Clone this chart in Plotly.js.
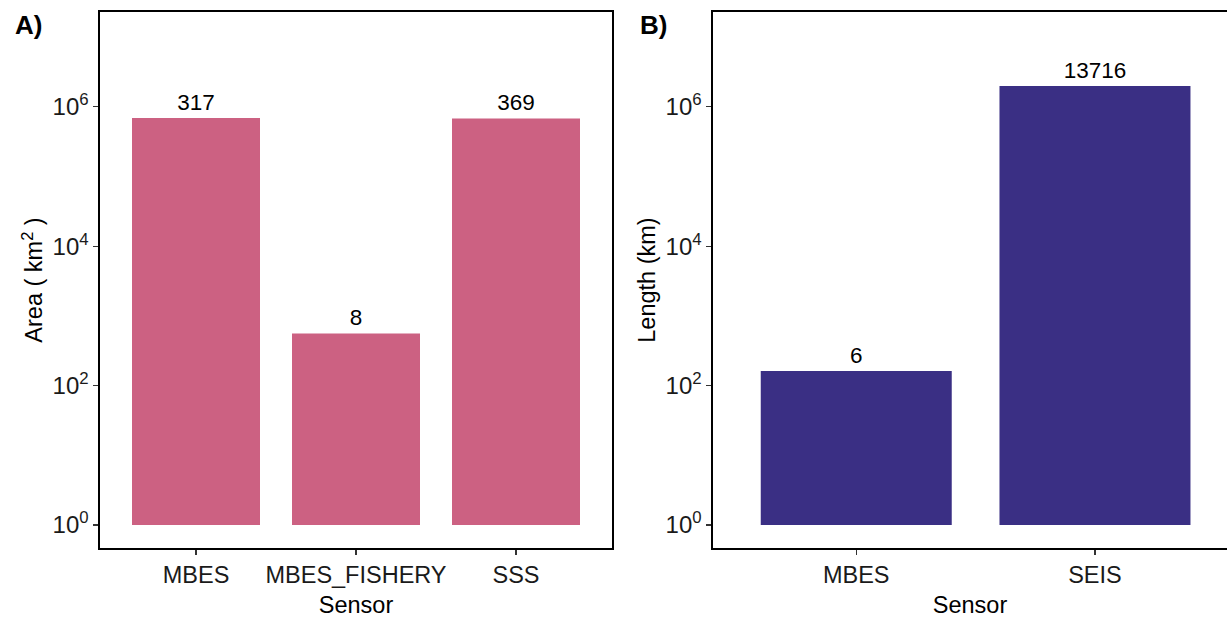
<!DOCTYPE html>
<html>
<head>
<meta charset="utf-8">
<script src="https://cdn.plot.ly/plotly-3.0.1.min.js"></script>
<style>html,body{margin:0;padding:0;background:#fff;}#chart{width:1227px;height:622px;}</style>
</head>
<body>
<div id="chart"></div>
<script>
// Panel A: survey area by sensor
const areaSensors = ["MBES", "MBES_FISHERY", "SSS"];
const areaValues = [690000, 560, 680000];
const areaCounts = ["317", "8", "369"];

// Panel B: survey length by sensor
const lengthSensors = ["MBES", "SEIS"];
const lengthValues = [162, 1980000];
const lengthCounts = ["6", "13716"];

// Log axis ticks
const logTickVals = [1, 100, 10000, 1000000];
const logTickText = ["10<sup>0</sup>", "10<sup>2</sup>", "10<sup>4</sup>", "10<sup>6</sup>"];

const FONT = "Liberation Sans, Arial, sans-serif";
const pink = "#CC6182";
const indigo = "#3A2F84";

const traces = [
  {
    type: "bar", x: areaSensors, y: areaValues.map(v => v - 1), base: areaSensors.map(() => 1),
    text: areaCounts, textposition: "outside", cliponaxis: false,
    textfont: {family: FONT, size: 22.5, color: "#000"},
    marker: {color: pink}, width: 0.8, xaxis: "x", yaxis: "y", hoverinfo: "x+text"
  },
  {
    type: "bar", x: lengthSensors, y: lengthValues.map(v => v - 1), base: lengthSensors.map(() => 1),
    text: lengthCounts, textposition: "outside", cliponaxis: false,
    textfont: {family: FONT, size: 22.5, color: "#000"},
    marker: {color: indigo}, width: 0.8, xaxis: "x2", yaxis: "y2", hoverinfo: "x+text"
  }
];

const yDomain = [74/622, 610/622];
const yRange = [-0.33, 7.36];

const xCommon = {
  showline: true, linecolor: "#000", linewidth: 1.6, ticks: "outside", ticklen: 5,
  tickwidth: 1.4, tickcolor: "#333", showgrid: false, zeroline: false,
  tickfont: {family: FONT, size: 23.5, color: "#1a1a1a"}, fixedrange: true,
  title: {text: "Sensor", font: {family: FONT, size: 23.5, color: "#000"}, standoff: 10}
};
const yCommon = {
  type: "log", range: yRange, showline: true, linecolor: "#000", linewidth: 1.6,
  ticks: "outside", ticklen: 5, tickwidth: 1.4, tickcolor: "#333",
  showgrid: false, zeroline: false, tickmode: "array", tickvals: logTickVals, ticktext: logTickText,
  tickfont: {family: FONT, size: 24, color: "#1a1a1a"}, fixedrange: true
};

const layout = {
  width: 1227, height: 622,
  margin: {l: 0, r: 0, t: 0, b: 0},
  paper_bgcolor: "#fff", plot_bgcolor: "#fff",
  showlegend: false, bargap: 0.2,
  font: {family: FONT, size: 23, color: "#000"},
  xaxis: Object.assign({}, xCommon, {domain: [100/1227, 612/1227], range: [-0.6, 2.6], mirror: true, anchor: "y"}),
  yaxis: Object.assign({}, yCommon, {domain: yDomain, mirror: true, anchor: "x",
    title: {text: "Area ( km<sup>2</sup> )", font: {family: FONT, size: 23.5, color: "#000"}}}),
  xaxis2: Object.assign({}, xCommon, {domain: [713/1227, 1], range: [-0.6, 1.553], mirror: true, anchor: "y2"}),
  yaxis2: Object.assign({}, yCommon, {domain: yDomain, anchor: "x2",
    title: {text: "Length (km)", font: {family: FONT, size: 23.5, color: "#000"}}}),
  annotations: [
    {text: "<b>A)</b>", xref: "paper", yref: "paper", x: 13/1227, y: 1 - 25/622, xanchor: "left", yanchor: "middle",
     showarrow: false, font: {family: FONT, size: 26, color: "#000"}},
    {text: "<b>B)</b>", xref: "paper", yref: "paper", x: 638/1227, y: 1 - 25/622, xanchor: "left", yanchor: "middle",
     showarrow: false, font: {family: FONT, size: 26, color: "#000"}}
  ]
};

Plotly.newPlot("chart", traces, layout, {displayModeBar: false, staticPlot: true});
</script>
</body>
</html>
